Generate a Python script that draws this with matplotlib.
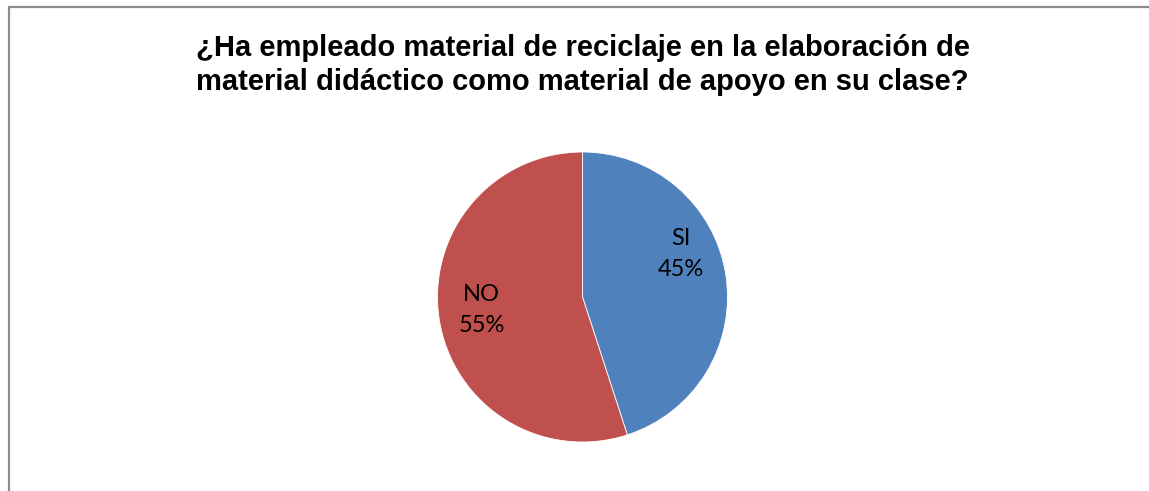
import matplotlib.pyplot as plt
from matplotlib.patches import Rectangle
import numpy as np

# survey answers
categories = ["SI", "NO"]
percentages = [45, 55]
colors = ["#4F81BD", "#C0504D"]
title = ("¿Ha empleado material de reciclaje en la elaboración de\n"
         "material didáctico como material de apoyo en su clase?")

W, H = 1149, 491
fig = plt.figure(figsize=(W / 100, H / 100), dpi=100)

# outer chart frame (cropped on right and bottom)
fig.patches.append(Rectangle((8.5 / W, -0.1), 1.2, 1.1 - 6.5 / H,
                             transform=fig.transFigure, fill=False,
                             edgecolor="#8c8c8c", linewidth=1.6))

fig.text(582.5 / W, 1 - 65 / H, title, ha="center", va="center",
         fontsize=21, fontweight="bold", family="Liberation Sans",
         linespacing=1.3)

cx, cy, r = 582.5, 297, 145
ax = fig.add_axes([(cx - r) / W, (H - cy - r) / H, 2 * r / W, 2 * r / H])
wedges, _ = ax.pie(percentages, colors=colors, startangle=90, counterclock=False,
                   wedgeprops=dict(edgecolor="white", linewidth=0.6))
ax.set_xlim(-1, 1)
ax.set_ylim(-1, 1)
ax.set_aspect("equal")
ax.axis("off")

# label positions (polar, in pie radius units), Excel "best fit" style
label_pos = [(0.74, 23.6), (0.70, 187.3)]
for cat, pct, (rr, ang) in zip(categories, percentages, label_pos):
    a = np.deg2rad(ang)
    ax.text(rr * np.cos(a), rr * np.sin(a), f"{cat}\n{pct}%", ha="center",
            va="center", fontsize=17, family="Lato", linespacing=1.6)

fig.savefig("out.png", dpi=100)
